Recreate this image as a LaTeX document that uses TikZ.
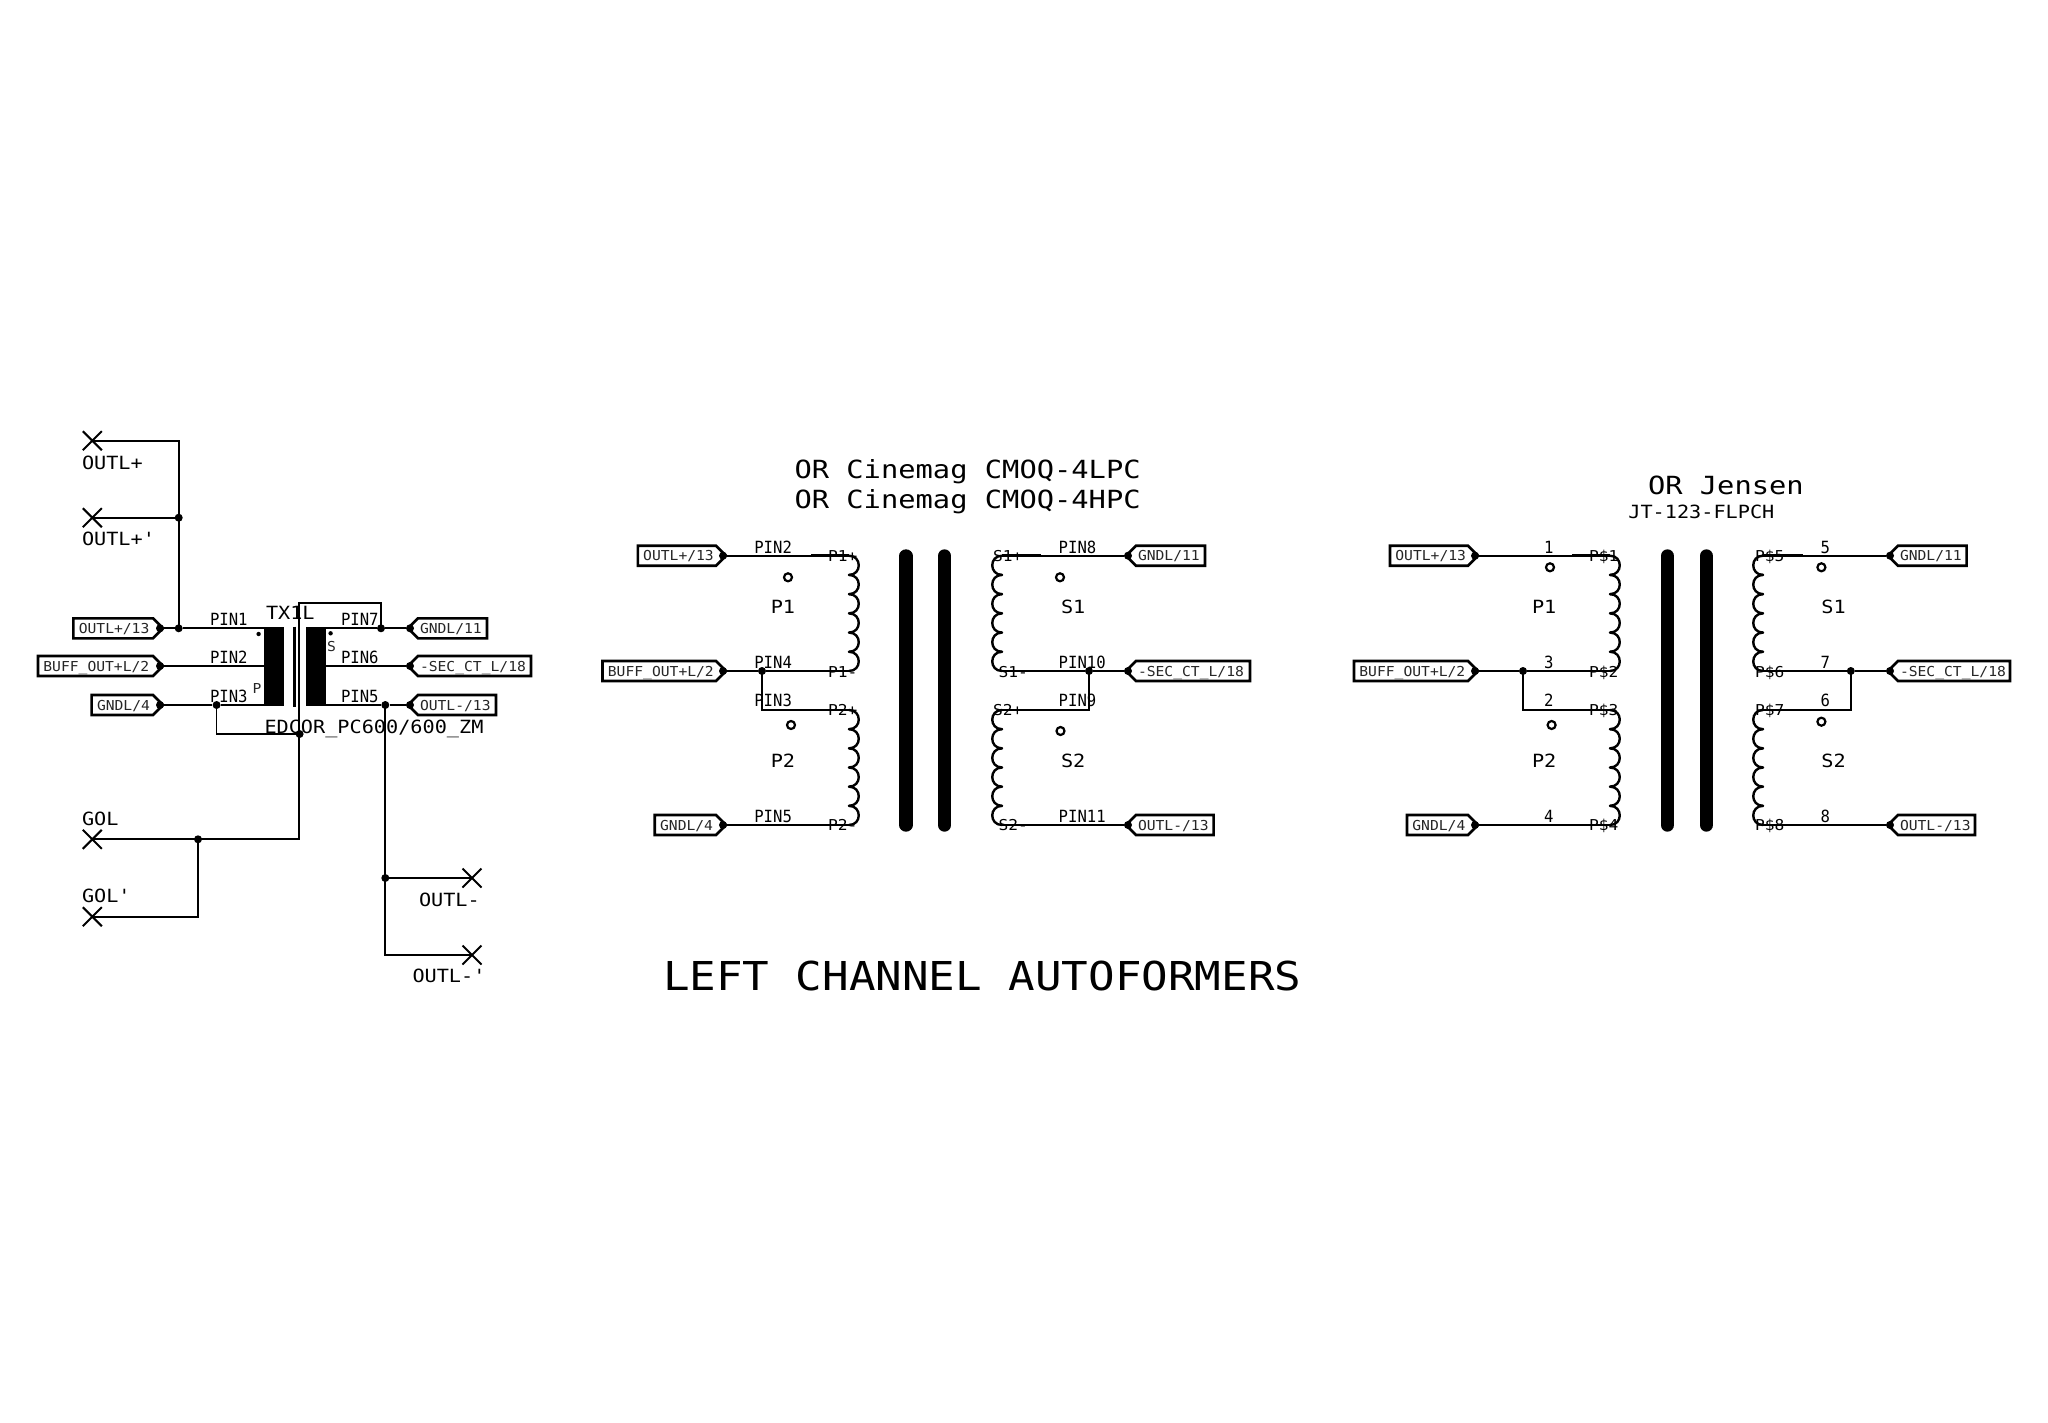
\documentclass[tikz,border=0pt]{standalone}
\usepackage{fontspec}
\usepackage{graphicx}
\usetikzlibrary{shapes.misc}
\newfontfamily\vf{DejaVu Sans Mono}
\newcommand\fPIN[1]{\scalebox{.93}[1]{\fontsize{16.8}{16.8}\selectfont\vf #1}}
\newcommand\fBIG[1]{\scalebox{1.11}[1]{\fontsize{18.2}{18.2}\selectfont\vf #1}}
\newcommand\fTIT[1]{\scalebox{1.15}[1]{\fontsize{25}{25}\selectfont\vf #1}}
\newcommand\fHEAD[1]{\scalebox{1.11}[1]{\fontsize{39.8}{39.8}\selectfont\vf #1}}
\newcommand\fBOX[1]{\scalebox{1.07}[1]{\fontsize{13.7}{13.7}\selectfont\vf\color{black!85} #1}}
\newcommand\fCOIL[1]{\scalebox{1.08}[1]{\fontsize{15}{15}\selectfont\vf #1}}
\newcount\tn
\newcommand\lbl[4]{\global\advance\tn by 1
  \node[txt] (t\the\tn) at (#2,#3) {#1{#4}};}
\tikzset{
  txt/.style={anchor=base west,inner sep=0pt,outer sep=0pt},
  wire/.style={line width=1.7pt},
  stub/.style={line width=2.8pt},
  boxline/.style={line width=2.6pt,line join=miter},
  coilline/.style={line width=2.4pt,line cap=round},
  bar/.style={line width=13.4pt,line cap=round},
  dot/.style={circle,fill=black,inner sep=0pt,minimum size=8pt},
  ring/.style={circle,draw=black,line width=2.2pt,inner sep=0pt,minimum size=8pt},
  xmark/.style={cross out,draw=black,line width=2pt,inner sep=0pt,minimum size=17pt},
  core/.style={fill=black,draw=none,inner sep=0pt,outer sep=0pt}
}
% name, xleft, xtip, y, text: tip to the east, dot on the tip
\newcommand\inbox[5]{
  \draw[boxline] (#2,#4-10) -- (#3-10,#4-10) -- (#3,#4) -- (#3-10,#4+10) -- (#2,#4+10) -- cycle;
  \lbl{\fBOX}{#2+5.4}{#4+5}{#5}
  \node[dot] (#1) at (#3-3,#4) {};}
% name, xtip, xright, y, text: tip to the west
\newcommand\outbox[5]{
  \draw[boxline] (#3,#4-10) -- (#2+10,#4-10) -- (#2,#4) -- (#2+10,#4+10) -- (#3,#4+10) -- cycle;
  \lbl{\fBOX}{#2+12}{#4+5}{#5}
  \node[dot] (#1) at (#2+2,#4) {};}
% coil: x, ytop, ybottom, bulge control (signed)
\newcommand\coil[4]{
  \foreach \i in {0,...,5}{
    \draw[coilline] (#1,{#2+\i*(#3-#2)/6}) .. controls (#1+#4,{#2+\i*(#3-#2)/6}) and (#1+#4,{#2+(\i+1)*(#3-#2)/6}) .. (#1,{#2+(\i+1)*(#3-#2)/6});
  }}
\begin{document}
\begin{tikzpicture}[x=1pt,y=-1pt]
\fill[white] (0,0) rectangle (2048,1423);
\useasboundingbox (0,0) rectangle (2048,1423);
%%%%%%%%%%%% left block
\node[xmark] (xa) at (92.3,440.7) {};
\node[xmark] (xb) at (92.3,517.7) {};
\node[xmark] (xc) at (92.3,839.3) {};
\node[xmark] (xd) at (92.3,916.7) {};
\node[xmark] (xe) at (472,878) {};
\node[xmark] (xf) at (472,955) {};
\lbl{\fBIG}{82}{469}{OUTL+}
\lbl{\fBIG}{82}{545}{OUTL+'}
\lbl{\fBIG}{82}{825.7}{GOL}
\lbl{\fBIG}{82}{902.7}{GOL'}
\lbl{\fBIG}{419}{906}{OUTL-}
\lbl{\fBIG}{412.5}{982.3}{OUTL-'}
\inbox{la}{73.4}{163}{628.3}{OUTL+/13}
\inbox{lb}{38}{163}{666}{BUFF\_OUT+L/2}
\inbox{lc}{91.6}{163}{705}{GNDL/4}
\outbox{ra}{408}{487}{628.3}{GNDL/11}
\outbox{rb}{408}{531}{666}{-SEC\_CT\_L/18}
\outbox{rc}{408}{496}{705}{OUTL-/13}
\node[dot] (j1) at (178.7,628.3) {};
\node[dot] (j2) at (178.7,517.7) {};
\node[dot] (j3) at (216.6,705) {};
\node[dot] (j4) at (299.6,734) {};
\node[dot] (j5) at (381,628.3) {};
\node[dot] (j6) at (385.3,705) {};
\node[dot] (j7) at (385.3,878) {};
\node[dot] (j8) at (198,839.3) {};
\coordinate (cla) at (263.5,628.3);
\coordinate (clb) at (263.5,666);
\coordinate (clc) at (263.5,705);
\coordinate (cra) at (326,628.3);
\coordinate (crb) at (326,666);
\coordinate (crc) at (326,705);
\coordinate (tl) at (299.3,603.3);
\coordinate (cb) at (299.3,839.3);
\fill[core] (263.5,627) rectangle (284,705.8);
\fill[core] (305.8,627) rectangle (326,705.8);
\draw[line width=2.6pt] (294.5,626.7) -- (294.5,706.7);
\draw[wire] (xa.center) -| (j2.center) -- (j1.center);
\draw[wire] (xb.center) -- (j2.center);
\draw[wire] (la) -- (j1) -- (cla);
\draw[wire] (lb) -- (clb);
\draw[wire] (lc) -- (j3) -- (clc);
\draw[wire] (j3.center) |- (j4.center);
\draw[wire] (cra) -- (j5) -- (ra);
\draw[wire] (crb) -- (rb);
\draw[wire] (crc) -- (j6) -- (rc);
\draw[wire] (j5.center) |- (tl) -- (cb) -- (xc.center);
\draw[wire] (j8.center) |- (xd.center);
\draw[wire] (j6.center) -- (385.3,955) -- (xf.center);
\draw[wire] (j7.center) -- (xe.center);
\fill (258.6,634) circle (2.2);
\fill (330.6,633.3) circle (2.2);
\lbl{\fBOX}{252.6}{693}{P}
\lbl{\fBOX}{327}{651.7}{S}
\lbl{\fPIN}{210}{625.7}{PIN1}
\lbl{\fPIN}{210}{663.3}{PIN2}
\lbl{\fPIN}{210}{702.3}{PIN3}
\lbl{\fPIN}{341}{625.7}{PIN7}
\lbl{\fPIN}{341}{663.3}{PIN6}
\lbl{\fPIN}{341}{702.3}{PIN5}
\lbl{\fBIG}{266}{619}{TX1L}
\lbl{\fBIG}{264.5}{733.3}{EDCOR\_PC600/600\_ZM}
%%%%%%%%%%%% middle block
\lbl{\fTIT}{794.5}{478.3}{OR Cinemag CMOQ-4LPC}
\lbl{\fTIT}{794.5}{508.3}{OR Cinemag CMOQ-4HPC}
\lbl{\fHEAD}{663}{990}{LEFT CHANNEL AUTOFORMERS}
\inbox{ma}{637.8}{726}{555.7}{OUTL+/13}
\inbox{mb}{602.5}{726}{671}{BUFF\_OUT+L/2}
\inbox{mc}{654.7}{726}{825}{GNDL/4}
\outbox{na}{1126}{1205}{555.7}{GNDL/11}
\outbox{nb}{1126}{1250}{671}{-SEC\_CT\_L/18}
\outbox{nc}{1126}{1213.6}{825}{OUTL-/13}
\node[dot] (mj) at (762,671) {};
\node[dot] (nj) at (1089,671) {};
\foreach \n/\y in {a/555.7,b/671,c/710,d/825}{
  \coordinate (mp\n) at (849,\y);
  \coordinate (ms\n) at (811,\y);
  \coordinate (np\n) at (1002,\y);
  \coordinate (ns\n) at (1041,\y);
  \draw[stub] (ms\n) -- (mp\n);
  \draw[stub] (ns\n) -- (np\n);
}
\draw[wire] (ma) -- (msa);
\draw[wire] (mb) -- (mj) -- (msb);
\draw[wire] (mj.center) |- (msc);
\draw[wire] (mc) -- (msd);
\draw[wire] (na) -- (nsa);
\draw[wire] (nb) -- (nj) -- (nsb);
\draw[wire] (nj.center) |- (nsc);
\draw[wire] (nc) -- (nsd);
\coil{849}{555.7}{671}{13}
\coil{849}{710}{825}{13}
\coil{1002}{555.7}{671}{-13}
\coil{1002}{710}{825}{-13}
\draw[bar] (906,556) -- (906,825);
\draw[bar] (944.5,556) -- (944.5,825);
\node[ring] (r1) at (788,577.3) {};
\node[ring] (r2) at (1060,577.3) {};
\node[ring] (r3) at (791,725) {};
\node[ring] (r4) at (1060.5,731) {};
\lbl{\fPIN}{754.3}{553.3}{PIN2}
\lbl{\fPIN}{754.3}{668}{PIN4}
\lbl{\fPIN}{754.3}{706.7}{PIN3}
\lbl{\fPIN}{754.3}{822.7}{PIN5}
\lbl{\fPIN}{1058.7}{553.3}{PIN8}
\lbl{\fPIN}{1058.7}{668}{PIN10}
\lbl{\fPIN}{1058.7}{706.7}{PIN9}
\lbl{\fPIN}{1058.7}{822.7}{PIN11}
\lbl{\fCOIL}{828}{561.3}{P1+}
\lbl{\fCOIL}{828}{677}{P1-}
\lbl{\fCOIL}{828}{715.7}{P2+}
\lbl{\fCOIL}{828}{830.7}{P2-}
\lbl{\fCOIL}{993}{561.3}{S1+}
\lbl{\fCOIL}{998.5}{677}{S1-}
\lbl{\fCOIL}{993}{715.7}{S2+}
\lbl{\fCOIL}{998.5}{830.7}{S2-}
\lbl{\fBIG}{770.8}{613}{P1}
\lbl{\fBIG}{1061}{613}{S1}
\lbl{\fBIG}{770.8}{767.3}{P2}
\lbl{\fBIG}{1061}{767.3}{S2}
%%%%%%%%%%%% right block
\lbl{\fTIT}{1648}{494}{OR Jensen}
\lbl{\fBIG}{1628.4}{518.3}{JT-123-FLPCH}
\inbox{pa}{1390}{1478}{555.7}{OUTL+/13}
\inbox{pb}{1354}{1478}{671}{BUFF\_OUT+L/2}
\inbox{pc}{1407}{1478}{825}{GNDL/4}
\outbox{qa}{1888}{1966.6}{555.7}{GNDL/11}
\outbox{qb}{1888}{2010}{671}{-SEC\_CT\_L/18}
\outbox{qc}{1888}{1975}{825}{OUTL-/13}
\node[dot] (pj) at (1523,671) {};
\node[dot] (qj) at (1850.8,671) {};
\foreach \n/\y in {a/555.7,b/671,c/710,d/825}{
  \coordinate (pp\n) at (1610,\y);
  \coordinate (ps\n) at (1572,\y);
  \coordinate (qp\n) at (1763,\y);
  \coordinate (qs\n) at (1802.7,\y);
  \draw[stub] (ps\n) -- (pp\n);
  \draw[stub] (qs\n) -- (qp\n);
}
\draw[wire] (pa) -- (psa);
\draw[wire] (pb) -- (pj) -- (psb);
\draw[wire] (pj.center) |- (psc);
\draw[wire] (pc) -- (psd);
\draw[wire] (qa) -- (qsa);
\draw[wire] (qb) -- (qj) -- (qsb);
\draw[wire] (qj.center) |- (qsc);
\draw[wire] (qc) -- (qsd);
\coil{1610}{555.7}{671}{13}
\coil{1610}{710}{825}{13}
\coil{1763}{555.7}{671}{-13}
\coil{1763}{710}{825}{-13}
\draw[bar] (1667.4,556) -- (1667.4,825);
\draw[bar] (1706.4,556) -- (1706.4,825);
\node[ring] (r5) at (1550,567.3) {};
\node[ring] (r6) at (1821.4,567.3) {};
\node[ring] (r7) at (1551.6,725) {};
\node[ring] (r8) at (1821.4,721.7) {};
\lbl{\fPIN}{1544}{553}{1}
\lbl{\fPIN}{1544}{668}{3}
\lbl{\fPIN}{1544}{706.7}{2}
\lbl{\fPIN}{1544}{822.7}{4}
\lbl{\fPIN}{1820.5}{553}{5}
\lbl{\fPIN}{1820.5}{668}{7}
\lbl{\fPIN}{1820.5}{706.7}{6}
\lbl{\fPIN}{1820.5}{822.7}{8}
\lbl{\fCOIL}{1589}{561.3}{P\$1}
\lbl{\fCOIL}{1589}{677}{P\$2}
\lbl{\fCOIL}{1589}{715.7}{P\$3}
\lbl{\fCOIL}{1589}{830.7}{P\$4}
\lbl{\fCOIL}{1755}{561.3}{P\$5}
\lbl{\fCOIL}{1755}{677}{P\$6}
\lbl{\fCOIL}{1755}{715.7}{P\$7}
\lbl{\fCOIL}{1755}{830.7}{P\$8}
\lbl{\fBIG}{1532}{613.3}{P1}
\lbl{\fBIG}{1821.4}{613.3}{S1}
\lbl{\fBIG}{1532}{767.3}{P2}
\lbl{\fBIG}{1821.4}{767.3}{S2}
\end{tikzpicture}
\end{document}
